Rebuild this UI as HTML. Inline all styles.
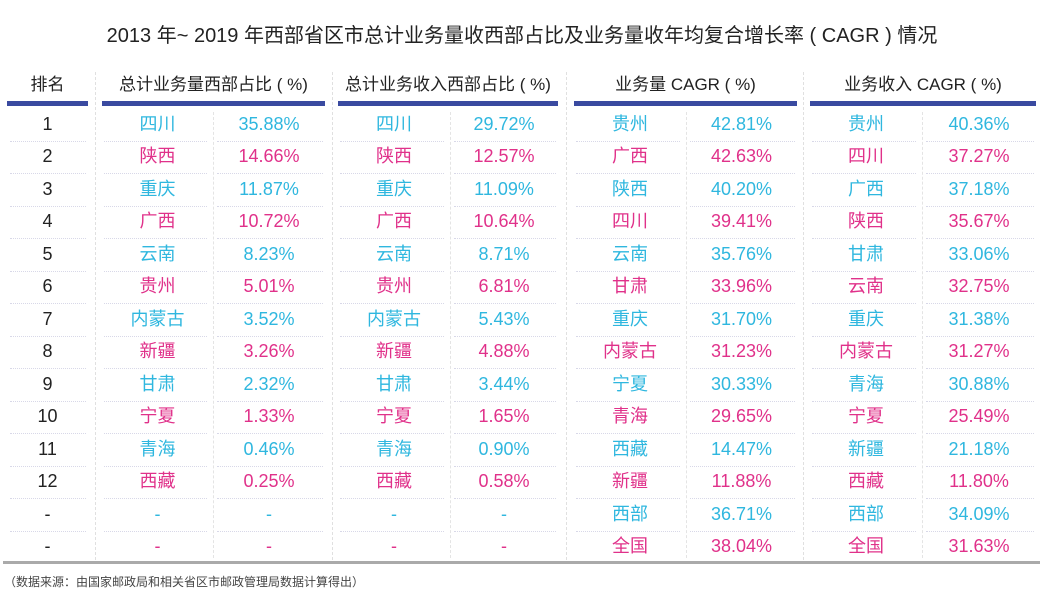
<!DOCTYPE html>
<html><head><meta charset="utf-8">
<style>
body{margin:0;width:1044px;height:593px;background:#fff;font-family:"Liberation Sans","Noto Sans CJK SC",sans-serif;position:relative;overflow:hidden}
.a{position:absolute}
.t{position:absolute;text-align:center;font-size:18px;line-height:20px}
.h{position:absolute;text-align:center;font-size:17px;color:#222;line-height:20px}
</style></head><body>
<div class="a" style="left:0;top:19px;width:1044px;text-align:center;font-size:20px;color:#222">2013 年~ 2019 年西部省区市总计业务量收西部占比及业务量收年均复合增长率 ( CAGR ) 情况</div>
<div id="tbl"></div>
<div class="a" style="left:3px;top:561px;width:1037px;height:3px;background:#aaa"></div>
<div class="a" style="left:4px;top:573px;font-size:12px;color:#444">（数据来源：由国家邮政局和相关省区市邮政管理局数据计算得出）</div>
<script>
const headers=["排名","总计业务量西部占比 ( %)","总计业务收入西部占比 ( %)","业务量 CAGR ( %)","业务收入 CAGR ( %)"];
const ranks=["1","2","3","4","5","6","7","8","9","10","11","12","-","-"];
const g1n=["四川","陕西","重庆","广西","云南","贵州","内蒙古","新疆","甘肃","宁夏","青海","西藏","-","-"];
const g1v=["35.88%","14.66%","11.87%","10.72%","8.23%","5.01%","3.52%","3.26%","2.32%","1.33%","0.46%","0.25%","-","-"];
const g2n=["四川","陕西","重庆","广西","云南","贵州","内蒙古","新疆","甘肃","宁夏","青海","西藏","-","-"];
const g2v=["29.72%","12.57%","11.09%","10.64%","8.71%","6.81%","5.43%","4.88%","3.44%","1.65%","0.90%","0.58%","-","-"];
const g3n=["贵州","广西","陕西","四川","云南","甘肃","重庆","内蒙古","宁夏","青海","西藏","新疆","西部","全国"];
const g3v=["42.81%","42.63%","40.20%","39.41%","35.76%","33.96%","31.70%","31.23%","30.33%","29.65%","14.47%","11.88%","36.71%","38.04%"];
const g4n=["贵州","四川","广西","陕西","甘肃","云南","重庆","内蒙古","青海","宁夏","新疆","西藏","西部","全国"];
const g4v=["40.36%","37.27%","37.18%","35.67%","33.06%","32.75%","31.38%","31.27%","30.88%","25.49%","21.18%","11.80%","34.09%","31.63%"];
const T=document.getElementById('tbl');
function add(html){const d=document.createElement('div');d.innerHTML=html;const e=d.firstChild;T.appendChild(e);return e;}
const groups=[[102,213,325,g1n,g1v],[338,450,558,g2n,g2v],[574,686,797,g3n,g3v],[810,922,1036,g4n,g4v]];
let e=add(`<div class="h" style="left:7px;width:81px;top:75px">${headers[0]}</div>`);

e=add(`<div class="a" style="left:7px;width:81px;top:101px;height:5px;background:#3a4aa0"></div>`);

groups.forEach((g,i)=>{
  e=add(`<div class="h" style="left:${g[0]}px;width:${g[2]-g[0]}px;top:75px">${headers[i+1]}</div>`);
  
  e=add(`<div class="a" style="left:${g[0]}px;width:${g[2]-g[0]}px;top:101px;height:5px;background:#3a4aa0"></div>`);
  
  e=add(`<div class="a" style="left:${g[1]}px;top:112px;height:446px;border-left:1px dashed #e4e4e4"></div>`);
  
});
[95,332,566,803].forEach((x,i)=>{
  e=add(`<div class="a" style="left:${x}px;top:72px;height:488px;border-left:1px dashed #e0e0e0"></div>`);
  
});
const rowH=32.46,y0=124;
ranks.forEach((r,k)=>{
  const cy=y0+k*rowH, col=k%2==0?'#2fb7df':'#e0318a';
  e=add(`<div class="t" style="left:7px;width:81px;top:${cy-10}px;color:#222">${r}</div>`);
  
  if(k<13){e=add(`<div class="a" style="left:10px;width:76px;top:${cy+17}px;border-top:1px dotted #d8d8e8"></div>`);
  }
  groups.forEach((g,i)=>{
    e=add(`<div class="t" style="left:${g[0]}px;width:${g[1]-g[0]}px;top:${cy-10}px;color:${col}">${g[3][k]}</div>`);
    
    e=add(`<div class="t" style="left:${g[1]}px;width:${g[2]-g[1]}px;top:${cy-10}px;color:${col}">${g[4][k]}</div>`);
    
    if(k<13){
      e=add(`<div class="a" style="left:${g[0]+2}px;width:${g[1]-g[0]-8}px;top:${cy+17}px;border-top:1px dotted #d8d8e8"></div>`);
      
      e=add(`<div class="a" style="left:${g[1]+4}px;width:${g[2]-g[1]-6}px;top:${cy+17}px;border-top:1px dotted #d8d8e8"></div>`);
      
    }
  });
});
</script>
</body></html>
